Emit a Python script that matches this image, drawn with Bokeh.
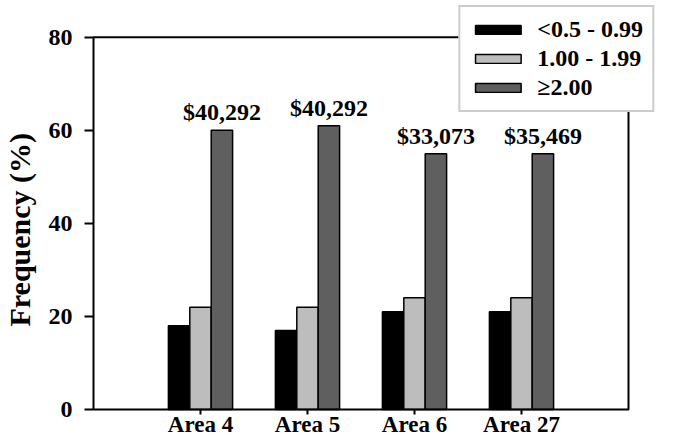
from bokeh.plotting import figure
from bokeh.models import (ColumnDataSource, Range1d, FixedTicker, Legend, LegendItem,
                          LabelSet, BoxAnnotation, Title)
from bokeh.embed import file_html
from bokeh.resources import INLINE

# ---- data ----
areas = ["Area 4", "Area 5", "Area 6", "Area 27"]
low = [18, 17, 21, 21]          # <0.5 - 0.99
mid = [22, 22, 24, 24]          # 1.00 - 1.99
high = [60, 61, 55, 55]         # >=2.00
incomes = ["$40,292", "$40,292", "$33,073", "$35,469"]
series_labels = ["<0.5 - 0.99", "1.00 - 1.99", "\u22652.00"]
y_ticks = [0, 20, 40, 60, 80]
y_max = 80
y_title = "Frequency (%)"

FONT = "Liberation Serif"
xpos = list(range(1, len(areas) + 1))
x_box_end = len(areas) + 1
bw = 0.2

# ---- layout (pixels) ----
W, H = 659, 439
LEFT, BOTTOM = 91, 26
frame_w = W - LEFT
frame_h = H - BOTTOM
px_x = 107.0                       # pixels per category step
px_y = (frame_h - 2 - 37) / 80.0   # pixels per % unit
x0 = -2 / px_x
y0 = -2 / px_y

src = ColumnDataSource(dict(
    x=xpos,
    xl=[x - bw for x in xpos],
    xh=[x + bw for x in xpos],
    low=low, mid=mid, high=high, inc=incomes,
))

p = figure(width=W, height=H, output_backend="svg", toolbar_location=None,
           x_range=Range1d(x0, x0 + frame_w / px_x),
           y_range=Range1d(y0, y0 + frame_h / px_y),
           min_border_left=LEFT, min_border_right=0, min_border_top=0,
           min_border_bottom=BOTTOM)
p.outline_line_color = None

r1 = p.vbar(x="xl", top="low", width=bw, source=src, fill_color="#000000",
            line_color="black", line_width=1.5)
r2 = p.vbar(x="x", top="mid", width=bw, source=src, fill_color="#bdbdbd",
            line_color="black", line_width=1.5)
r3 = p.vbar(x="xh", top="high", width=bw, source=src, fill_color="#5f5f5f",
            line_color="black", line_width=1.5)

# plot box (frame of the chart area)
p.add_layout(BoxAnnotation(left=0, right=x_box_end, bottom=0, top=y_max,
                           fill_alpha=0, line_color="black", line_width=2,
                           line_alpha=1))

labels = LabelSet(x="xh", y="high", text="inc", source=src, text_align="center",
                  text_baseline="bottom", y_offset=5, text_font=FONT,
                  text_font_style="bold", text_font_size="24px", text_color="black")
p.add_layout(labels)

p.xgrid.grid_line_color = None
p.ygrid.grid_line_color = None

p.xaxis.ticker = FixedTicker(ticks=xpos)
p.xaxis.major_label_overrides = {x: a for x, a in zip(xpos, areas)}
p.xaxis.minor_tick_line_color = None
p.xaxis.major_tick_in = 2
p.xaxis.major_tick_out = 3
p.xaxis.major_label_standoff = -3
p.xaxis.major_label_text_font = FONT
p.xaxis.major_label_text_font_style = "bold"
p.xaxis.major_label_text_font_size = "23px"
p.xaxis.major_label_text_color = "black"

p.yaxis.ticker = FixedTicker(ticks=y_ticks)
p.yaxis.minor_tick_line_color = None
p.yaxis.major_tick_in = 2
p.yaxis.major_tick_out = 7
p.yaxis.major_label_standoff = 12
p.yaxis.major_label_text_font = FONT
p.yaxis.major_label_text_font_style = "bold"
p.yaxis.major_label_text_font_size = "24px"
p.yaxis.major_label_text_color = "black"
# blank axis label used only as a small spacer before the title
p.yaxis.axis_label = " "
p.yaxis.axis_label_text_font_size = "6px"
p.yaxis.axis_label_standoff = 1

for ax in (p.xaxis, p.yaxis):
    ax.axis_line_color = None
    ax.major_tick_line_width = 2
    ax.major_tick_line_color = "black"

# y-axis title, placed along the plot box
ytitle = Title(text=y_title, align="left", offset=85, standoff=0,
               text_font=FONT, text_font_style="bold", text_font_size="30px",
               text_color="black")
p.add_layout(ytitle, "left")

legend = Legend(items=[LegendItem(label=series_labels[0], renderers=[r1]),
                       LegendItem(label=series_labels[1], renderers=[r2]),
                       LegendItem(label=series_labels[2], renderers=[r3])],
                location="top_right", orientation="vertical",
                label_text_font=FONT, label_text_font_style="bold",
                label_text_font_size="24px", label_text_color="black",
                glyph_width=57, glyph_height=11, label_height=27,
                label_standoff=11, spacing=2, padding=9, margin=5,
                border_line_color="#9a9a9a", border_line_width=2,
                background_fill_color="white", background_fill_alpha=1)
p.add_layout(legend, "center")

open("out.html", "w").write(file_html(p, INLINE))
